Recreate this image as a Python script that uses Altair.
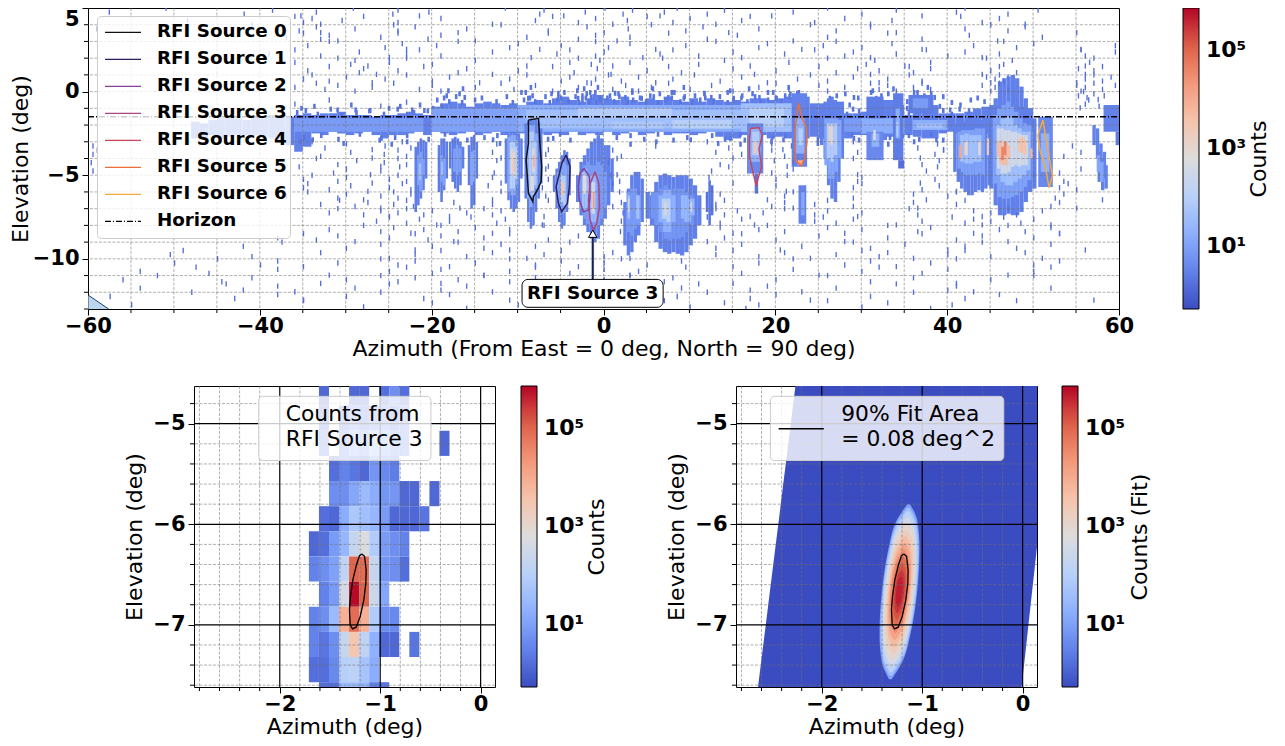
import altair as alt
import pandas as pd

FONT = "DejaVu Sans"
COOLWARM = ["#3b4cc0", "#6282ea", "#8db0fe", "#b8d0f9", "#dddcdc", "#f5c4ac", "#f4987a", "#dd6048", "#b40426"]
COUNT_DOMAIN = [0.51, 710000]
COUNT_TICKS = [10, 1000, 100000]

# ---- top panel ----
TOP_AZ = [-60, 60]
TOP_EL = [-13, 5]
top_x_major = [-60, -40, -20, 0, 20, 40, 60]
top_y_major = [-10, -5, 0, 5]
top_x_grid = [-55, -50, -45, -40, -35, -30, -25, -20, -15, -10, -5, 0, 5, 10, 15, 20, 25, 30, 35, 40, 45, 50, 55]
top_y_grid = [-12, -11, -10, -9, -8, -7, -6, -5, -4, -3, -2, -1, 0, 1, 2, 3, 4]
top_x_minor = [-55, -50, -45, -35, -30, -25, -15, -10, -5, 5, 10, 15, 25, 30, 35, 45, 50, 55]
top_y_minor = [-13, -12, -11, -9, -8, -7, -6, -4, -3, -2, -1, 1, 2, 3, 4]

source_names = ["RFI Source 0", "RFI Source 1", "RFI Source 2", "RFI Source 3",
                "RFI Source 4", "RFI Source 5", "RFI Source 6", "Horizon"]
source_colors = ["#111111", "#2d2060", "#84409c", "#a84680", "#c8465c", "#ec6e3a", "#f5a93c", "#000000"]
source_dash = [[1, 0]] * 7 + [[6, 2, 1, 2]]

src0_az = [-8.74, -7.57, -7.46, -7.38, -7.19, -7.26, -7.69, -8.16, -8.23, -8.74, -8.86, -9.01, -8.74, -8.74, -8.74]
src0_el = [-1.70, -1.60, -2.49, -3.29, -4.49, -5.39, -5.88, -6.28, -6.58, -6.08, -5.09, -4.09, -3.09, -2.30, -1.70]
src1_az = [-4.35, -3.89, -3.97, -4.20, -4.86, -5.25, -5.52, -5.13, -4.86, -4.35]
src1_el = [-3.79, -4.49, -5.68, -6.68, -7.18, -6.68, -5.68, -4.89, -4.29, -3.79]
src2_az = [-2.26, -1.64, -1.56, -1.75, -2.34, -2.80, -2.92, -2.72, -2.26]
src2_el = [-4.59, -5.09, -6.28, -7.08, -7.18, -6.48, -5.68, -4.89, -4.59]
src3_az = [-0.98, -0.55, -0.47, -0.79, -1.17, -1.56, -1.75, -1.56, -0.98]
src3_el = [-4.79, -5.49, -6.88, -7.88, -8.28, -7.68, -6.48, -5.49, -4.79]
src4_az = [17.11, 18.10, 18.49, 18.10, 18.41, 18.02, 17.78, 17.31, 16.99, 16.99, 17.11]
src4_el = [-2.20, -2.16, -2.61, -3.42, -4.53, -5.13, -5.64, -4.63, -3.82, -2.81, -2.20]
src5_az = [22.70, 23.09, 23.61, 23.68, 23.41, 23.02, 22.35, 22.31, 22.35, 22.54, 22.70]
src5_el = [-0.69, -1.60, -2.10, -3.01, -4.02, -4.43, -4.12, -3.01, -2.00, -1.39, -0.69]
src6_az = [51.15, 51.55, 52.26, 51.86, 51.47, 50.76, 50.56, 50.88, 51.15]
src6_el = [-1.70, -3.01, -5.03, -5.74, -4.63, -3.42, -2.61, -2.10, -1.70]
horizon_az = [-60, 60]
horizon_el = [-1.5, -1.5]

# horizon band, one column per degree of azimuth starting at -48
band_top = [-1.8, -1.9, -1.7, -1.6, -1.5, -1.6, -1.7, -1.5, -1.6, -1.4, -1.4, -1.5,
            -1.4, -1.3, -1.4, -1.3, -1.3, -1.2, -1.4, -1.4, -1.4, -1.5, -1.4, -1.4, -1.3, -1.2, -1.3, -1.4,
            -0.9, -0.7, -0.6, -0.7, -0.9, -0.7, -0.6, -0.7, -0.8, -0.7,
            -0.8, -0.6, -0.5, -0.7, -0.4, -0.3, -0.5, -0.6, -0.4, -0.2,
            -0.4, -0.5, -0.3, -0.5, -0.6, -0.4, -0.5, -0.3, -0.5, -0.6,
            -0.4, -0.6, -0.4, -0.5, -0.6, -0.5, -0.6, -0.4, -0.4, -0.5,
            -0.4, -0.3, -0.2, -0.3, -0.7, -0.7, -0.5, -0.6, -1.3, -1.3,
            -1.2, -0.8, -0.5, -0.5, -0.8, -1.4, -0.9, -0.7, -0.8, -1.3,
            -1.3, -1.3, -1.2, -1.0, -0.9, -0.8, -0.8, -0.9, -0.9, -1.0]
band_bot = [-2.8, -2.8, -2.6, -2.8, -2.7, -2.6, -2.6, -2.6, -2.7, -2.8, -3.0, -3.2,
            -3.6, -3.3, -2.5, -2.6, -2.4, -2.5, -2.6, -2.5, -2.4, -2.6, -2.8, -2.6, -2.6, -2.5, -2.4, -2.6,
            -2.4, -2.5, -2.6, -2.5, -2.4, -2.6, -2.5, -2.4, -2.6, -2.5,
            -2.5, -2.4, -2.5, -2.6, -2.5, -2.6, -2.4, -2.6, -2.5, -2.6,
            -2.4, -2.6, -2.5, -2.4, -2.6, -2.5, -2.4, -2.6, -2.5, -2.5,
            -2.6, -2.5, -2.4, -2.7, -2.9, -2.8, -2.6, -2.5, -2.6, -2.8,
            -2.7, -2.8, -2.7, -2.8, -2.7, -2.8, -2.6, -2.6, -2.8, -2.6,
            -2.6, -2.7, -2.9, -2.7, -2.8, -2.6, -2.7, -2.8, -2.8, -2.5,
            -2.4, -2.5, -2.4, -2.4, -2.5, -2.4, -2.5, -2.4, -2.5, -2.4]
band_first_az = -48
band_log = 0.45

# flat pieces: az0, az1, el top, el bottom, log10 counts
blobs = [
    (-36, -21, -1.6, -2.4, 0.9), (-20, -10, -1.0, -2.4, 1.0), (-10, 23, -0.8, -2.4, 1.2), (-9, 22, -1.1, -2.2, 1.6),
    (-3, 8, -1.0, -1.5, 1.9), (1, 7, -1.8, -2.2, 1.8), (8, 15, -1.7, -2.2, 2.0), (16, 22, -0.7, -2.4, 1.6), (17, 21, -1.0, -2.1, 2.0),
    (28, 30, -1.6, -2.4, 0.9),
    (30, 35, -1.6, -2.5, 1.2), (36, 40, -1.7, -2.3, 1.2), (36.5, 39.5, -1.9, -2.2, 1.6),
    (-1.4, -1.1, -8.3, -11.2, 0.3),
    (16.7, 18.6, -1.9, -4.9, 0.6), (17.0, 18.3, -2.2, -4.2, 1.3), (17.3, 18.1, -2.4, -3.8, 1.9), (17.5, 17.8, -3.0, -3.7, 3.4),
    (17.6, 18.0, -4.9, -6.1, 0.3),
    (21.9, 23.7, -0.1, -4.5, 0.5), (22.3, 23.4, -1.6, -3.7, 1.3), (22.7, 23.2, -2.2, -3.2, 2.0), (22.6, 23.2, -4.1, -4.4, 4.0),
    (22.7, 23.6, -5.6, -7.9, 0.5), (23.0, 23.4, -6.0, -7.4, 1.1),
    (30.6, 32.6, -0.3, -1.6, 0.4), (30.6, 32.6, -2.4, -4.1, 0.6), (31.2, 32.1, -2.5, -3.3, 1.3), (31.4, 31.7, -2.3, -2.9, 2.6),
    (33.7, 34.9, -0.1, -4.1, 0.4), (34.0, 34.5, -1.0, -2.8, 1.2), (34.1, 34.3, -1.8, -2.7, 2.0), (34.3, 35.0, -4.1, -4.6, 0.2),
    (35.5, 38.4, -0.2, -1.3, 0.4), (36, 37.8, -0.4, -1.0, 0.9),
    (50.6, 52.3, -1.5, -5.7, 0.6), (50.9, 51.9, -2.5, -4.8, 1.3),
    (58.2, 60, -0.8, -2.4, 0.5), (59.6, 60, -2.4, -3.2, 0.4),
]

# plumes of narrow columns: first az, column width, log10 counts, el tops, el bottoms
plumes = [
    (-22, .3, .4, [-3.3, -3.0, -2.8, -2.9, -3.0], [-7.2, -6.8, -6.4, -5.9, -5.2]),
    (-21.7, .3, 1.0, [-3.8, -3.6, -4.0], [-5.6, -6.0, -5.0]),
    (-21.5, .3, 1.6, [-4.3], [-5.3]),
    (-19.3, .3, .4, [-3.2, -2.8, -2.8, -3.0], [-6.0, -6.6, -5.9, -5.2]),
    (-19.0, .3, 1.0, [-3.8, -4.0], [-5.4, -5.6]),
    (-18.9, .2, 1.7, [-4.2], [-5.0]),
    (-18, .3, .4, [-3.0, -2.8, -2.7, -2.8, -3.0, -3.3], [-4.6, -5.4, -5.8, -6.0, -5.6, -4.6]),
    (-17.5, .3, 1.0, [-3.4, -3.2, -3.4], [-4.8, -5.0, -4.8]),
    (-15.8, .3, .4, [-3.2, -2.7, -2.6, -3.0], [-5.6, -7.0, -6.8, -5.2]),
    (-15.5, .3, 1.1, [-3.6, -3.5], [-5.6, -5.4]),
    (-11.5, .3, .45, [-2.8, -2.5, -2.4, -2.4, -2.4, -2.5, -2.8], [-5.5, -6.5, -7.0, -7.2, -7.0, -6.6, -5.2]),
    (-11.1, .3, 1.2, [-2.7, -2.6, -2.6, -2.9], [-6.0, -6.2, -6.2, -5.6]),
    (-10.9, .3, 2.0, [-3.0, -3.0, -3.3], [-5.8, -5.8, -5.2]),
    (-10.8, .25, 3.0, [-3.4, -3.6], [-4.9, -5.1]),
    (-10.5, .2, 3.6, [-4.0], [-4.8]),
    (-9.2, .3, .45, [-1.9, -1.8, -1.7, -1.7, -1.7, -1.8, -2.2], [-6.4, -7.8, -8.2, -8.0, -7.2, -6.4, -5.5]),
    (-8.9, .3, 1.2, [-2.0, -2.0, -2.0, -2.5], [-6.4, -6.9, -6.6, -5.8]),
    (-8.7, .3, 1.9, [-2.4, -2.4, -3.0], [-6.0, -6.2, -5.6]),
    (-8.3, .3, 3.0, [-3.4], [-4.8]),
    (-8.2, .2, 3.9, [-3.8], [-4.5]),
    (-8.5, .4, 2.7, [-5.0], [-5.9]),
    (-5.9, .3, .45, [-5.0, -4.6, -4.2, -3.8, -3.5, -3.6, -4.0], [-6.0, -7.0, -7.8, -8.2, -8.0, -7.2, -6.2]),
    (-5.4, .3, 1.1, [-4.8, -4.5, -4.2, -4.4], [-6.8, -7.2, -7.3, -6.9]),
    (-5.0, .3, 2.0, [-5.0, -5.0], [-6.6, -6.8]),
    (-4.9, .3, 3.5, [-5.4], [-6.2]),
    (-3.2, .4, .45, [-5.0, -4.2, -3.8, -3.4, -3.0, -2.8, -2.6, -2.8, -3.2, -3.2, -4.0], [-6.6, -7.4, -8.0, -8.4, -8.8, -9.0, -8.8, -8.0, -7.6, -6.8, -6.0]),
    (-2.8, .4, .9, [-4.8, -4.4, -4.2, -4.4, -4.4, -4.2, -4.4, -4.8], [-7.0, -7.6, -7.9, -8.0, -8.1, -8.0, -7.6, -7.0]),
    (-2.5, .3, 1.6, [-4.8, -4.6, -5.0], [-7.0, -7.2, -6.8]),
    (-2.4, .4, 2.8, [-5.0], [-6.1]),
    (-1.6, .8, 1.4, [-5.0], [-7.8]),
    (-1.4, .4, 2.5, [-5.4], [-7.3]),
    (-1.25, .2, 4.3, [-6.0], [-7.0]),
    (2.3, .4, .45, [-6.6, -5.8, -5.0, -4.8, -4.8, -5.2], [-9.2, -9.8, -9.6, -9.0, -8.6, -7.8]),
    (2.7, .4, .9, [-6.0, -5.8, -5.8, -6.2], [-8.4, -8.6, -8.2, -8.0]),
    (2.8, .3, 1.6, [-6.2], [-7.6]),
    (2.85, .15, 2.9, [-6.4], [-7.2]),
    (3.8, .4, 1.6, [-6.2], [-7.6]),
    (4.9, .5, .45, [-6.0, -6.2, -5.4, -5.0, -4.9, -5.0, -5.1, -5.0, -5.0, -5.0, -5.2, -5.6, -6.2], [-7.6, -8.0, -9.0, -9.4, -9.6, -9.7, -9.6, -9.7, -9.8, -9.6, -9.2, -8.8, -8.0]),
    (5.5, .5, .8, [-6.0, -6.0, -5.8, -5.6, -5.8, -5.8, -5.8, -5.8, -6.0, -6.2], [-7.6, -8.0, -8.4, -8.8, -8.9, -8.8, -8.8, -8.7, -8.4, -8.0]),
    (6.4, .5, 1.3, [-6.2, -5.9, -5.9, -6.2], [-7.8, -8.4, -8.4, -7.8]),
    (6.8, .5, 2.0, [-6.4, -6.4], [-7.6, -7.8]),
    (7.1, .25, 3.0, [-6.6], [-7.4]),
    (9, .4, 1.4, [-6.2, -6.2, -6.4, -6.4], [-7.6, -7.8, -7.8, -7.4]),
    (10.1, .2, 2.4, [-6.6], [-7.2]),
    (11.9, .3, .3, [-6.0, -5.3, -5.6], [-7.2, -8.0, -7.4]),
    (25.2, .4, .45, [-1.0, -0.6, -0.4, -0.3, -0.5, -0.8, -1.2], [-3.2, -4.0, -5.6, -6.4, -6.6, -5.4, -4.0]),
    (25.7, .4, 1.1, [-1.6, -1.6, -1.6, -1.6, -1.7], [-4.4, -5.2, -5.2, -4.8, -4.0]),
    (26.0, .4, 1.9, [-1.9, -1.9, -1.9], [-4.0, -4.2, -3.8]),
    (26.2, .25, 3.0, [-2.0, -2.1], [-3.1, -3.2]),
    (40.7, .4, .45, [-2.0, -1.9, -1.8, -1.8, -1.8, -1.8, -1.8, -1.7, -1.7, -1.6, -1.5], [-4.8, -5.4, -5.8, -6.0, -6.2, -6.2, -6.0, -5.9, -6.0, -5.8, -5.6]),
    (41.2, .4, 1.0, [-2.4, -2.3, -2.3, -2.3, -2.3, -2.2, -2.2, -2.2], [-4.6, -4.8, -5.0, -5.0, -5.0, -5.0, -4.9, -5.0]),
    (41.5, .5, 1.6, [-2.6, -2.5, -2.6, -2.6, -2.6], [-4.2, -4.3, -4.3, -4.2, -4.2]),
    (41.4, .3, 4.0, [-3.2], [-4.0]),
    (42.0, .4, 3.0, [-3.0], [-3.8]),
    (43.6, .3, 2.9, [-3.0], [-3.8]),
    (44.6, .3, 3.4, [-2.8], [-3.8]),
    (44.9, .5, .45, [-0.8, -0.4, 0.6, 0.8, 0.9, 1.0, 0.8, 0.3, -0.4, -1.0, -1.6], [-5.8, -6.8, -7.4, -7.4, -7.3, -7.4, -7.4, -7.2, -6.6, -6.0, -5.8]),
    (45.3, .5, 1.0, [-1.4, -1.0, -0.8, -0.6, -0.9, -1.2, -1.6, -1.9, -2.0], [-5.5, -6.3, -6.4, -6.4, -6.3, -6.2, -6.0, -5.7, -5.3]),
    (45.7, .5, 1.6, [-2.0, -1.6, -1.5, -1.6, -2.0, -2.2, -2.4, -2.4], [-5.0, -5.4, -5.6, -5.6, -5.4, -5.2, -5.0, -4.7]),
    (45.8, .4, 2.5, [-2.2, -2.2, -2.3, -2.3, -2.4, -2.4, -2.5, -2.6, -2.6], [-4.6, -4.9, -4.9, -4.8, -4.5, -4.4, -4.5, -4.4, -4.4]),
    (45.8, .3, 3.7, [-3.0, -2.9, -3.3, -3.0, -3.2], [-3.9, -4.3, -4.4, -4.4, -4.0]),
    (46.3, .3, 4.6, [-3.3, -3.0], [-4.1, -3.8]),
    (48.3, .3, 3.6, [-2.8, -2.7, -2.9], [-3.6, -3.7, -3.8]),
    (49.7, .25, 3.8, [-3.4], [-4.0]),
    (56.9, .4, .5, [-2.0, -2.2, -3.1, -3.6], [-3.2, -4.0, -4.8, -5.2]),
    (57.5, .4, .5, [-3.6, -4.0, -4.4], [-5.4, -5.9, -5.8]),
    (57.4, .4, 1.1, [-3.8, -4.2], [-4.8, -5.4]),
]

# dense fringe cells above and below the band
fringe_rows = {
    0.05: [-18.2, -16.5, -9.2, -8.6, -5.4, -3.2, -2.4, -1.7, -0.8, 1.2, 3.2, 5.6, 7.8, 9.2, 11.6, 14.6, 16.8, 19.6, 21.4, 22.4, 31.2, 33.6, 36.4, 37.6],
    -0.25: [-18.4, -16.9, -16.3, -9.7, -8.9, -8.4, -6.2, -5.4, -4.7, -3.1, -2.6, -2.1, -1.6, -1.1, -0.6, 0.6, 1.6, 2.4, 3.2, 4.3, 5.3, 6.4, 7.4, 8.1, 9.2, 10.5, 11.6, 12.4, 14.3, 15, 16, 17.2, 18, 19, 20, 21, 21.6, 22.1, 22.6, 26.2, 27, 28, 29, 31, 31.6, 32.2, 33, 34, 36, 36.6, 37.2, 38, 38.4],
    -0.5: [-19.5, -18.7, -18.1, -17.3, -16.6, -15.1, -14.3, -12.6, -11.4, -10.7, -9.4, -8.7, -8.1, -6.9, -6.4, -5.5, -5.1, -4.2, -3.4, -3.0, -2.6, -2.2, -1.8, -1.3, -1, -0.5, 0.3, 1.1, 1.7, 2.7, 3.3, 4.1, 4.8, 5.7, 6.2, 7.1, 7.8, 8.8, 9.3, 10.2, 11.1, 11.7, 12.7, 13.4, 14.3, 15, 15.9, 16.6, 17.5, 18.1, 19, 19.9, 20.6, 21.5, 22.1, 23, 29.5, 35.2, 39.4, 40.4, 42.6, 43.4, 44.2],
    -1.0: [-35.3, -33.8, -31.1, -29.5, -27.4, -25.1, -23.8, -22.4, -21.5, -20.6, -20, -19, -29, 28.5, 29.6, 35.2, 39, 40.2, 41.4, 42.4],
    -1.25: [-35.8, -34.8, -33.4, -31.9, -30.6, -28.9, -27.3, -25.7, -24.1, -23, -22.2, -21, 28.2, 28.9, 29.7, 35.4, 39.4, 40.4, 41.3],
    -2.75: [-35, -33, -31, -28.5, -26.2, -24.4, -23, -20.5, -18.6, -16, -14, -12.5, -6.6, -5.2, -4, 1.4, 3, 4.6, 6.2, 8, 9.6, 12.5, 14, 15.8, 16.3, 19.5, 21, 24.8, 28.8, 29.6, 33.2, 35.4, 36.6, 38, 39.4],
    -3.0: [-35.4, -34, -30.4, -26, -24.8, -23, -13, -12.2, -6, 3, 6, 10, 13.2, 14.6, 15.8, 19.4, 20.8, 24.8, 29, 33, 36, 38.6],
}
fringe_log = 0.3
fringe_width = 0.3
fringe_height = 0.3
fringe_shift = [0, .12, -.1, .2, -.15]

speck_rows = {
    4.75: [-57.6, -51, -41.9, -38.6, -35.3, -33.5, -29.2, -24.6, -24.0, -21.5, -20.4, -11.5, -7.5, -7.0, -4.7, -2.2, 0.1, 2.2, 3.3, 6.5, 7, 8.5, 12, 14, 19.5, 22, 26, 30, 34, 37, 41, 42, 47, 50.5],
    4.25: [-48.5, -36, -35, -34, -33, -30.5, -28, -24, -19, -13, -8, -6, -3, -1, 1, 2.7, 5, 8, 10, 13, 16, 17, 24.5, 28, 31, 33.5, 41.5, 44, 46, 49],
    3.75: [-59, -41, -35.5, -33.5, -33, -29, -24.5, -24, -22, -17, -16, -12, -6.5, -2, 0, 2.8, 5.5, 9.5, 11.5, 14.5, 18, 24, 27, 31, 34, 42, 45, 47, 49, 55],
    3.25: [-37, -35, -33, -32, -31, -26, -24, -20.5, -19, -15, -9, -6.5, -3, -1, 1.5, 3, 7.5, 12, 15.5, 22, 26, 33, 37, 42.5, 45.8, 51],
    2.75: [-34.5, -32, -25.5, -23.5, -23, -19.5, -17, -11, -10, -7.5, -5, -1, 0.5, 3, 6, 9.5, 13, 18, 19, 23, 25.5, 27, 30, 33.5, 37, 43, 46.5, 48, 50, 55.5, 59.5],
    2.25: [-39, -36, -33, -28.5, -25, -23, -21.5, -19, -13, -8.5, -5.5, -4, -1, 0, 4.5, 6.5, 8, 11, 15, 16, 21, 24.5, 28, 29, 31, 34, 37.5, 40, 42, 44, 46, 55.5, 56, 59.5],
    1.75: [-36, -31, -29.5, -29, -27.5, -25, -23, -20, -15, -9, -4, -3, -1.5, -0.5, 1, 3, 6.8, 11, 14, 17, 21.5, 26, 30.5, 31.5, 35, 38, 44.5, 46.5, 47.5, 56, 56.5, 57],
    1.25: [-34.5, -32, -28.5, -28, -26.5, -24, -21, -17, -16, -13, -10, -6, -3.5, -0.8, 0.8, 5, 7.5, 9, 15, 17.5, 20, 25, 27, 29.5, 31, 32, 35.5, 36, 38, 44, 45, 46, 48, 55.2, 56, 57, 58],
    0.75: [-35, -34, -32, -30, -27, -25.5, -23, -20, -18, -14.5, -11, -9, -5, -4, -2, -1, 0.5, 2, 4, 6, 8, 10.5, 13.5, 16, 19, 22.5, 24, 26, 29, 32, 33, 35.5, 37, 44.5, 45, 45.5, 46, 46.5, 47, 55, 56, 57, 58, 59],
    0.25: [-36, -33.5, -32.5, -31, -29, -27, -24.5, -21.5, -20, -19, -15, -12, -10.5, -8, -6, -3, -1.5, 1, 2.5, 4, 5.5, 7.5, 10, 12.5, 15, 18, 20, 21.5, 25, 26, 28, 31, 32, 33, 34, 36, 37, 38, 44, 45, 45.5, 46, 47, 55, 55.5, 56, 57, 58, 59.5],
    -0.25: [55.2, 55.8, 56.2, 57, 57.5, 58.2],
    -0.75: [-36, -32, -26, -23, 55.4, 56, 56.4, 57.6],
    -3.25: [-59.5, -34, -32.5, -30, -27, -25.5, -23.5, -22.5, -12.5, -6.5, 6, 12, 14.5, 19.5, 20.8, 21.8, 29, 36.5, 38.8, 39.5, 54.5],
    -3.75: [-59.5, -59, -33, -29.5, -27, -25.6, -24, -23, -13, -12, -6.8, 1, 2, 13, 15, 16, 19.5, 21, 29.5, 36.8, 38.5, 39.5, 53.5, 55.5],
    -4.25: [-59.7, -33.5, -31, -28.8, -26, -25.6, -24, -23, -12.5, -6.5, 0.5, 1.5, 13.5, 19.8, 21.3, 22, 29, 37, 39],
    -4.75: [-59.5, -35.5, -31.5, -30, -27.2, -26, -23.8, -12.8, -6.8, 1.5, 12.5, 14.5, 19.5, 22, 29.5, 37.5, 38.8, 53, 55.5],
    -5.25: [-35, -34, -31, -30, -27, -25, -24, -23, -13, -12, -6.5, 0.8, 1.8, 12.2, 15, 20, 21.3, 29.5, 30, 36.8, 38.5, 50, 53.5],
    -5.75: [-35, -34.5, -32, -29.5, -27.5, -25, -23.5, -22.5, -13.5, -12, -7.2, 1, 12.5, 20, 21.2, 29, 30, 37, 39, 41, 53, 54, 55],
    -6.25: [-37, -34.5, -31, -30, -28, -26, -24.5, -24, -22.5, -13, -6.8, 1.8, 12, 13.5, 19, 21, 22, 29, 36, 37.5, 40, 41, 52.5, 53.5, 58],
    -6.75: [-33, -30.8, -29, -27.5, -26, -24.5, -23, -22.2, -17.5, -16.8, -13, -6.5, 1, 2, 12.5, 13, 14, 19.5, 21, 22, 24.5, 26, 29, 36, 36.5, 41, 42, 52, 53, 55],
    -7.25: [-32, -31, -28, -26, -25, -24, -23, -21, -20, -18, -16, -14, -13, -12, -7, 2.2, 13, 14, 15.5, 17, 18.5, 21, 24.5, 26, 29.5, 30, 35.5, 36.5, 43, 44, 45, 47, 48, 51],
    -7.75: [-26.5, -25, -23, -21.5, -19.5, -18, -15.5, -12.5, -11.5, -7.2, 2, 12, 13.5, 16, 17.5, 24.5, 25.5, 27, 29, 34, 37, 40.5, 42, 43, 44, 45, 46.5, 48.5, 50, 52],
    -8.25: [-32, -28, -26, -24.5, -22.5, -21, -19, -17, -15, -13, -11, -7, 1.9, 13.5, 15, 18, 19, 21, 26, 28, 30, 33, 36.5, 38, 43, 46, 47, 49, 52, 53],
    -8.75: [-38, -35, -33.5, -31, -29, -25, -22, -20.5, -19, -17.5, -14, -11, -6.5, -3, 12, 14, 16, 20, 25, 28, 33, 37, 41, 44, 47, 50, 53],
    -9.25: [-42, -37.5, -30, -26, -22, -20, -17, -14, -12, -11, -8, -4, 13, 16, 20.5, 23, 29, 31, 35, 40, 42, 44, 48, 52, 56],
    -9.75: [-50.5, -49, -41, -33, -25, -22, -19, -16, -13, -9, -7, -5, 0, 1, 3, 13, 15, 18, 21, 24, 27, 30, 32, 33, 36, 40, 42, 45, 49, 51],
    -10.25: [-50, -45, -40, -38, -35, -31, -26, -24, -22, -18, -15, -11, -8, -5, -3, 0, 2, 5, 9, 15, 18, 22, 28, 31, 34, 38, 41, 50, 53],
    -10.75: [-54, -47.5, -46, -38, -32, -25, -23, -20, -19, -14, -11, -8, -4, 0, 3, 4, 9.5, 16, 22, 25, 30, 32, 37, 40, 47, 50, 52],
    -11.25: [-56, -52, -44.5, -41, -33, -30, -26, -24, -22, -19, -17, -14, -11, -8, -6, 0, 3, 7, 8, 15, 20, 26, 31, 36, 41, 45, 50],
    -11.75: [-54, -44, -42, -38, -36, -29, -25, -19, -16, -13, 9, 11, 17, 19, 23, 27, 34, 40, 41, 43, 52],
    -12.25: [-57.5, -48, -43, -38, -35, -30, -26, -21, -18, -11, 8.5, 12, 17, 20, 24, 31, 36, 42, 46, 57],
    -12.75: [-55, -35, -28, -20, -16, -10, 7, 10, 14, 16.5, 18, 26, 30, 33, 38, 40.5, 48],
}
speck_log = 0.2
speck_width = 0.16
speck_height = 0.32
speck_shift = [0, .25, -.12, .12, -.22]

corner_az = [-60, -57.6]
corner_top = [-12.16, -13]
corner_bottom = [-13, -13]

note_az0, note_az1, note_el0, note_el1 = -9.48, 6.94, -11.23, -12.9
note_text = "RFI Source 3"
note_az, note_el = -1.27, -12.07
arrow_az, arrow_el0, arrow_el1 = -1.25, -8.5, -11.23

# ---- bottom panels ----
ZOOM_AZ = [-2.854, 0.143]
ZOOM_EL = [-7.618, -4.625]
zoom_x_grid = [-2.8, -2.6, -2.4, -2.2, -1.8, -1.6, -1.4, -1.2, -0.8, -0.6, -0.4, -0.2]
zoom_y_grid = [-7.6, -7.4, -7.2, -6.8, -6.6, -6.4, -6.2, -5.8, -5.6, -5.4, -5.2, -4.8]
zoom_major_x = [-2, -1, 0]
zoom_major_y = [-7, -6, -5]

cell_az_edges = [-1.71, -1.61, -1.51, -1.41, -1.31, -1.21, -1.11, -1.01, -0.91, -0.81, -0.71, -0.61, -0.51, -0.41, -0.31, -0.21]
cell_el_edges = [-4.57, -4.82, -5.07, -5.32, -5.57, -5.82, -6.07, -6.32, -6.57, -6.82, -7.07, -7.32, -7.57, -7.63]
X = None
# log10 counts per row (top to bottom), per 0.1 deg column
cell_log = [
    [X, .1, X, X, .1, .1, X, .2, .7, .2, X, X, X, X, X],
    [X, .2, X, .3, .7, .3, .5, .5, .2, .5, X, X, X, X, X],
    [X, .4, X, .5, 1.1, .8, 1.5, 1.0, .7, .5, X, X, X, .1, X],
    [X, X, .2, .5, .3, .1, .8, .6, .4, X, X, X, X, X, X],
    [X, X, .7, .7, 1.1, 1.5, 1.2, .8, .8, .1, .1, X, .1, X, X],
    [X, .2, .1, 1.2, 1.8, 1.6, 1.4, .9, .1, .1, .1, .3, X, X, X],
    [.1, .2, .9, 1.4, 2.3, 2.7, 1.9, .9, .7, .5, X, X, X, X, X],
    [.5, .7, 1.0, 2.2, 5.0, 4.9, 2.3, .8, .7, .2, X, X, X, X, X],
    [X, .5, .9, 2.6, 5.8, 5.0, 2.4, 1.1, X, X, X, X, X, X, X],
    [.5, .7, 1.5, 3.9, 4.9, 3.9, 1.9, .7, .6, X, X, X, X, X, X],
    [.5, .3, .7, 2.3, 3.5, 2.2, 1.3, .1, .1, X, .3, X, X, X, X],
    [.2, .2, .6, 2.0, 2.1, 1.7, 1.2, X, X, X, X, X, X, X, X],
    [X, .2, .2, 1.5, 1.5, 1.4, .4, .3, X, X, X, X, X, X, X],
]

# 90% contour of the fit
ellipse_az = [-1.183, -1.156, -1.140, -1.143, -1.163, -1.199, -1.239, -1.276, -1.299, -1.306, -1.296, -1.272, -1.236, -1.206, -1.183]
ellipse_el = [-6.296, -6.319, -6.452, -6.585, -6.751, -6.917, -7.023, -7.040, -7.0, -6.850, -6.718, -6.551, -6.402, -6.312, -6.296]

fit_bg_el = [-7.62, -4.625]
fit_bg_left = [-2.635, -2.262]
fit_bg_right = [-0.01, 0.318]
fit_bg_log = -0.29

# contour levels of the fit
fit_levels = [
    (1.0, [-5.80, -5.97, -6.23, -6.67, -7.10, -7.36, -7.54],
     [-1.149, -1.259, -1.333, -1.402, -1.425, -1.405, -1.331], [-1.121, -1.047, -1.027, -1.050, -1.119, -1.193, -1.303]),
    (1.6, [-5.835, -6.0, -6.25, -6.67, -7.085, -7.335, -7.505],
     [-1.152, -1.257, -1.328, -1.394, -1.416, -1.397, -1.327], [-1.125, -1.055, -1.036, -1.058, -1.124, -1.195, -1.300]),
    (2.1, [-5.87, -6.03, -6.27, -6.67, -7.07, -7.31, -7.47],
     [-1.155, -1.255, -1.323, -1.386, -1.407, -1.389, -1.323], [-1.129, -1.063, -1.045, -1.066, -1.129, -1.197, -1.297]),
    (2.6, [-5.93, -6.075, -6.30, -6.67, -7.04, -7.26, -7.41],
     [-1.160, -1.253, -1.315, -1.374, -1.393, -1.377, -1.315], [-1.136, -1.075, -1.058, -1.078, -1.136, -1.199, -1.291]),
    (3.0, [-5.99, -6.12, -6.33, -6.67, -7.01, -7.21, -7.35],
     [-1.166, -1.251, -1.308, -1.362, -1.380, -1.365, -1.308], [-1.144, -1.087, -1.072, -1.090, -1.144, -1.201, -1.286]),
    (3.3, [-6.055, -6.175, -6.36, -6.67, -6.975, -7.16, -7.285],
     [-1.171, -1.248, -1.300, -1.349, -1.365, -1.351, -1.300], [-1.151, -1.100, -1.086, -1.103, -1.151, -1.203, -1.280]),
    (3.7, [-6.12, -6.23, -6.39, -6.67, -6.94, -7.11, -7.22],
     [-1.177, -1.246, -1.293, -1.336, -1.351, -1.338, -1.293], [-1.159, -1.114, -1.101, -1.116, -1.159, -1.206, -1.275]),
    (4.1, [-6.185, -6.285, -6.425, -6.67, -6.905, -7.055, -7.15],
     [-1.183, -1.245, -1.287, -1.326, -1.338, -1.326, -1.285], [-1.167, -1.125, -1.113, -1.126, -1.164, -1.206, -1.269]),
    (4.5, [-6.25, -6.34, -6.46, -6.67, -6.87, -7.0, -7.08],
     [-1.189, -1.245, -1.282, -1.316, -1.326, -1.315, -1.277], [-1.175, -1.137, -1.126, -1.136, -1.170, -1.207, -1.263]),
    (4.9, [-6.32, -6.39, -6.495, -6.67, -6.84, -6.945, -7.015],
     [-1.195, -1.242, -1.272, -1.301, -1.309, -1.300, -1.268], [-1.183, -1.152, -1.142, -1.151, -1.179, -1.210, -1.256]),
    (5.2, [-6.39, -6.44, -6.53, -6.67, -6.81, -6.89, -6.95],
     [-1.202, -1.239, -1.263, -1.286, -1.293, -1.285, -1.260], [-1.192, -1.167, -1.159, -1.166, -1.189, -1.213, -1.250]),
    (5.45, [-6.455, -6.495, -6.56, -6.67, -6.775, -6.84, -6.885],
     [-1.207, -1.236, -1.255, -1.272, -1.278, -1.272, -1.252], [-1.199, -1.180, -1.174, -1.179, -1.197, -1.216, -1.244]),
    (5.65, [-6.52, -6.55, -6.59, -6.67, -6.74, -6.79, -6.82],
     [-1.213, -1.233, -1.247, -1.259, -1.263, -1.259, -1.245], [-1.207, -1.193, -1.189, -1.193, -1.205, -1.219, -1.239]),
]

left_box = (-2.21, -0.495, -4.728, -5.366)
left_lines = ["Counts from", "RFI Source 3"]
left_line_el = [-4.907, -5.156]
left_line_az = -1.94
right_box = (-2.511, -0.188, -4.728, -5.366)
right_lines = ["90% Fit Area", "= 0.08 deg^2"]
right_line_az = -1.806
right_key_az = (-2.43, -1.98)
right_key_el = -5.05

TEN_EXPR = "datum.value == 10 ? '10\u00b9' : datum.value == 1000 ? '10\u00b3' : '10\u2075'"


def color_enc(legend_x, length):
    return alt.Color(
        "count:Q",
        scale=alt.Scale(type="log", domain=COUNT_DOMAIN, range=COOLWARM, interpolate="rgb", clamp=True),
        legend=alt.Legend(
            type="gradient", orient="none", legendX=legend_x, legendY=0, title=None,
            values=COUNT_TICKS, labelExpr=TEN_EXPR, gradientLength=length, gradientThickness=16,
            gradientStrokeColor="black", gradientStrokeWidth=1, labelFontSize=22, labelFontWeight="bold",
            labelFont=FONT, labelColor="black", labelOffset=7, zindex=1,
        ),
    )


def bar_title(text, x_px, y_px):
    return alt.Chart(pd.DataFrame({"t": [text]})).mark_text(
        font=FONT, fontSize=22, color="black", angle=270, align="center", baseline="middle").encode(
        x=alt.value(x_px), y=alt.value(y_px), text="t:N")


def axis(title, ticks, **kw):
    return alt.Axis(
        title=title, values=ticks, grid=False, format="d", labelFont=FONT, labelFontSize=21,
        labelFontWeight="bold", labelColor="black", titleFont=FONT, titleFontSize=22, titleFontWeight="normal",
        titleColor="black", tickColor="black", domain=False, tickSize=6, **kw,
    )


def rules(values, channel, color, dash, width, dom, opacity=1.0):
    df = pd.DataFrame({"v": values})
    enc = {channel: alt.X("v:Q", scale=alt.Scale(domain=dom)) if channel == "x" else alt.Y("v:Q", scale=alt.Scale(domain=dom))}
    return alt.Chart(df).mark_rule(color=color, strokeDash=dash, strokeWidth=width, opacity=opacity).encode(**enc)


def minor_ticks_x(values, h):
    return alt.Chart(pd.DataFrame({"v": values})).mark_rule(color="black", strokeWidth=1).encode(
        x="v:Q", y=alt.value(h), y2=alt.value(h + 4))


def minor_ticks_y(values):
    return alt.Chart(pd.DataFrame({"v": values})).mark_rule(color="black", strokeWidth=1).encode(
        y="v:Q", x=alt.value(0), x2=alt.value(-4))


GRID = dict(color="#707070", dash=[3, 1.5], width=1, opacity=0.55)

# ---------- top panel data ----------
rects = []
for i, (t, b) in enumerate(zip(band_top, band_bot)):
    rects.append((band_first_az + i, band_first_az + i + 1, t, b, band_log))
for el, azs in fringe_rows.items():
    for i, a in enumerate(azs):
        e = el + fringe_shift[i % len(fringe_shift)]
        rects.append((a, a + fringe_width, e + fringe_height / 2, e - fringe_height / 2, fringe_log))
rects.extend(blobs)
for start, step, lg, tops, bots in plumes:
    for i, (t, b) in enumerate(zip(tops, bots)):
        rects.append((start + i * step, start + (i + 1) * step, t, b, lg))
for el, azs in speck_rows.items():
    for i, a in enumerate(azs):
        e = el + speck_shift[i % len(speck_shift)]
        rects.append((a, a + speck_width, e + speck_height / 2, e - speck_height / 2, speck_log))
top_df = pd.DataFrame(rects, columns=["a0", "a1", "e0", "e1", "lg"])
top_df["count"] = 10 ** top_df["lg"]

tx = alt.X("a0:Q", scale=alt.Scale(domain=TOP_AZ, nice=False, zero=False),
           axis=axis("Azimuth (From East = 0 deg, North = 90 deg)", top_x_major, labelFlush=False, labelPadding=0, titlePadding=2))
ty = alt.Y("e0:Q", scale=alt.Scale(domain=TOP_EL, nice=False, zero=False),
           axis=axis("Elevation (deg)", top_y_major, labelFlush=True, labelPadding=3, titlePadding=0))

top_heat = alt.Chart(top_df).mark_rect(clip=True).encode(
    x=tx, x2="a1:Q", y=ty, y2="e1:Q", color=color_enc(1095, 301))

line_rows = []
for name, azs, els in zip(source_names,
                          [src0_az, src1_az, src2_az, src3_az, src4_az, src5_az, src6_az, horizon_az],
                          [src0_el, src1_el, src2_el, src3_el, src4_el, src5_el, src6_el, horizon_el]):
    for k, (a, e) in enumerate(zip(azs, els)):
        line_rows.append({"name": name, "k": k, "az": a, "el": e})
line_df = pd.DataFrame(line_rows)

top_lines = alt.Chart(line_df).mark_line(strokeWidth=1.5).encode(
    x=alt.X("az:Q"), y=alt.Y("el:Q"), order="k:Q",
    stroke=alt.Stroke("name:N", scale=alt.Scale(domain=source_names, range=source_colors),
                      legend=alt.Legend(
                          orient="none", legendX=9, legendY=8, title=None, symbolType="stroke", symbolSize=1296,
                          clipHeight=26.8, rowPadding=0, labelFont=FONT, labelFontSize=18.3, labelFontWeight="bold",
                          labelColor="black", labelOffset=15, fillColor="rgba(255,255,255,0.8)", symbolOffset=4,
                          strokeColor="#cccccc", cornerRadius=4, padding=3, zindex=1, symbolStrokeWidth=1.3)),
    strokeDash=alt.StrokeDash("name:N", scale=alt.Scale(domain=source_names, range=source_dash), legend=None),
)

corner_df = pd.DataFrame({"az": corner_az, "top": corner_top, "bottom": corner_bottom})
corner = alt.Chart(corner_df).mark_area(color="#9fc5e8", line={"color": "#1f3d66", "strokeWidth": 1}).encode(
    x="az:Q", y="top:Q", y2="bottom:Q")

note_box = alt.Chart(pd.DataFrame({"a0": [note_az0], "a1": [note_az1], "e0": [note_el0], "e1": [note_el1]})).mark_rect(
    fill="white", stroke="black", strokeWidth=1, cornerRadius=6).encode(x="a0:Q", x2="a1:Q", y="e0:Q", y2="e1:Q")
note_txt = alt.Chart(pd.DataFrame({"a": [note_az], "e": [note_el], "t": [note_text]})).mark_text(
    font=FONT, fontSize=18.5, fontWeight="bold", color="black").encode(x="a:Q", y="e:Q", text="t:N")
arrow = alt.Chart(pd.DataFrame({"a": [arrow_az], "e0": [arrow_el0], "e1": [arrow_el1]})).mark_rule(
    color="#223", strokeWidth=1.5).encode(x="a:Q", y="e0:Q", y2="e1:Q")
arrow_head = alt.Chart(pd.DataFrame({"a": [arrow_az], "e": [arrow_el0]})).mark_point(
    shape="triangle-up", filled=True, fill="white", stroke="black", strokeWidth=1, size=70, opacity=1).encode(x="a:Q", y="e:Q")

view_black = alt.ViewConfig(stroke="black", strokeWidth=1)

top = alt.layer(
    top_heat,
    rules(top_x_grid, "x", GRID["color"], GRID["dash"], GRID["width"], TOP_AZ, GRID["opacity"]),
    rules(top_y_grid, "y", GRID["color"], GRID["dash"], GRID["width"], TOP_EL, GRID["opacity"]),
    corner, top_lines, arrow, arrow_head, note_box, note_txt,
    minor_ticks_x(top_x_minor, 301), minor_ticks_y(top_y_minor),
    bar_title("Counts", 1171, 151),
).properties(width=1031, height=301, view=view_black)


# ---------- bottom panel helpers ----------
def zoom_axes():
    x = alt.X("a0:Q", scale=alt.Scale(domain=ZOOM_AZ, nice=False, zero=False),
              axis=axis("Azimuth (deg)", zoom_major_x, labelFlush=False, labelPadding=0, titlePadding=2))
    y = alt.Y("e0:Q", scale=alt.Scale(domain=ZOOM_EL, nice=False, zero=False),
              axis=axis("Elevation (deg)", zoom_major_y, labelFlush=False, labelPadding=3, titlePadding=6))
    return x, y


def zoom_overlays(box, lines, line_az):
    out = [
        rules(zoom_x_grid, "x", GRID["color"], GRID["dash"], GRID["width"], ZOOM_AZ, GRID["opacity"]),
        rules(zoom_y_grid, "y", GRID["color"], GRID["dash"], GRID["width"], ZOOM_EL, GRID["opacity"]),
        rules(zoom_major_x, "x", "black", [1, 0], 1.2, ZOOM_AZ),
        rules(zoom_major_y, "y", "black", [1, 0], 1.2, ZOOM_EL),
        minor_ticks_x(zoom_x_grid, 301), minor_ticks_y(zoom_y_grid),
    ]
    ell = pd.DataFrame({"az": ellipse_az, "el": ellipse_el, "k": list(range(len(ellipse_az)))})
    out.append(alt.Chart(ell).mark_line(color="black", strokeWidth=1.3).encode(x="az:Q", y="el:Q", order="k:Q"))
    bx = pd.DataFrame({"a0": [box[0]], "a1": [box[1]], "e0": [box[2]], "e1": [box[3]]})
    out.append(alt.Chart(bx).mark_rect(fill="white", fillOpacity=0.8, stroke="#cccccc", cornerRadius=4).encode(
        x="a0:Q", x2="a1:Q", y="e0:Q", y2="e1:Q"))
    out.append(alt.Chart(pd.DataFrame({"a": [line_az] * 2, "e": left_line_el, "t": lines})).mark_text(
        font=FONT, fontSize=21.8, color="black", align="left").encode(x="a:Q", y="e:Q", text="t:N"))
    return out


# left panel
cell_rows = []
for r, row in enumerate(cell_log):
    for c, v in enumerate(row):
        if v is not None:
            cell_rows.append((cell_az_edges[c], cell_az_edges[c + 1], cell_el_edges[r], cell_el_edges[r + 1], 10 ** v))
cell_df = pd.DataFrame(cell_rows, columns=["a0", "a1", "e0", "e1", "count"])
zx, zy = zoom_axes()
left_heat = alt.Chart(cell_df).mark_rect(clip=True).encode(
    x=zx, x2="a1:Q", y=zy, y2="e1:Q", color=color_enc(327, 301))
left = alt.layer(left_heat, *zoom_overlays(left_box, left_lines, left_line_az), bar_title("Counts", 403, 151)).properties(
    width=301, height=301, view=view_black)

# right panel
zx, zy = zoom_axes()
bg_df = pd.DataFrame({"e0": fit_bg_el, "a0": fit_bg_left, "a1": fit_bg_right, "count": [10 ** fit_bg_log] * 2})
fit_bg = alt.Chart(bg_df).mark_area(orient="horizontal", clip=True).encode(
    x=zx, x2="a1:Q", y=zy, color=color_enc(326, 301))
fit_layers = []
for lg, els, ls, rs in fit_levels:
    d = pd.DataFrame({"e0": els, "a0": ls, "a1": rs, "count": [10 ** lg] * len(els)})
    fit_layers.append(alt.Chart(d).mark_area(orient="horizontal", interpolate="monotone").encode(
        x="a0:Q", x2="a1:Q", y="e0:Q", color=alt.Color("count:Q")))
key = alt.Chart(pd.DataFrame({"a0": [right_key_az[0]], "a1": [right_key_az[1]], "e": [right_key_el]})).mark_rule(
    color="black", strokeWidth=1.5).encode(x="a0:Q", x2="a1:Q", y="e:Q")
right = alt.layer(fit_bg, *fit_layers, *zoom_overlays(right_box, right_lines, right_line_az), key,
                  bar_title("Counts (Fit)", 404, 151)).properties(width=301, height=301, view=view_black)

spacer = alt.Chart(pd.DataFrame({"a": [0]})).mark_point(opacity=0).encode(
    x=alt.X("a:Q", axis=None), y=alt.Y("a:Q", axis=None)).properties(
    width=33, height=10, view=alt.ViewConfig(stroke="transparent"))

panels = alt.hconcat(left, right, spacing=56).resolve_scale(color="independent")
bottom = alt.hconcat(spacer, panels, spacing=1).resolve_scale(color="independent")
chart = alt.vconcat(top, bottom, spacing=24).resolve_scale(color="independent", stroke="independent", strokeDash="independent").properties(
    padding={"left": 0, "top": -1, "right": 0, "bottom": 0}).configure(font=FONT)

chart.save("out.html", embed_options={"renderer": "svg", "actions": False})
